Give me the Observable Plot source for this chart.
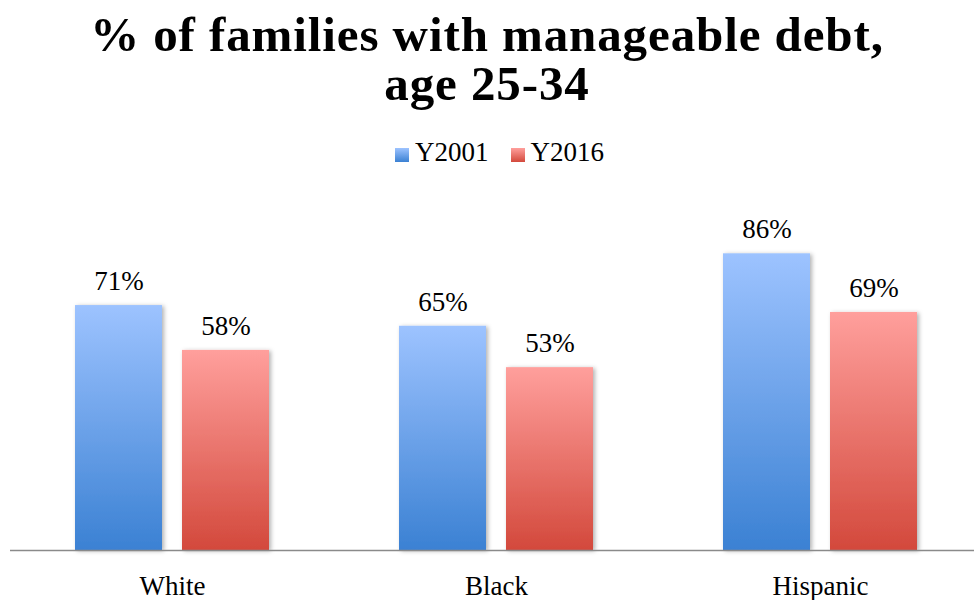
<!DOCTYPE html>
<html>
<head>
<meta charset="utf-8">
<script src="https://cdn.jsdelivr.net/npm/d3@7"></script>
<script src="https://cdn.jsdelivr.net/npm/@observablehq/plot@0.6"></script>
<style>
  html, body { margin: 0; padding: 0; background: #fff; }
  #wrap { position: relative; width: 974px; height: 600px; overflow: hidden; font-family: "Liberation Serif", serif; }
  .title { position: absolute; left: 0; width: 974px; text-align: center; font: bold 49px/46px "Liberation Serif", serif; letter-spacing: 0.9px; color: #000; margin: 0; white-space: nowrap; }
  #t1 { top: 12px; }
  #t2 { top: 61px; }
  #legend { position: absolute; top: 139px; left: 395px; height: 27px; font: 27px/27px "Liberation Serif", serif; color: #000; white-space: nowrap; }
  #legend span.item { display: inline-block; vertical-align: top; }
  #legend span.sw { display: inline-block; width: 14px; height: 14px; margin-right: 6px; vertical-align: -1px; }
  #chart { position: absolute; left: 0; top: 180px; }
</style>
</head>
<body>
<div id="wrap">
  <div class="title" id="t1">% of families with manageable debt,</div>
  <div class="title" id="t2">age 25-34</div>
  <div id="legend"></div>
  <div id="chart"></div>
</div>
<script>
const categories = ["White", "Black", "Hispanic"];
const series = ["Y2001", "Y2016"];
const y2001 = [71, 65, 86];
const y2016 = [58, 53, 69];
const seriesColors = {
  Y2001: ["#9dc3ff", "#3b81d3"],
  Y2016: ["#ff9f9c", "#d3493c"]
};

const rows = [];
categories.forEach((c, i) => {
  rows.push({category: c, series: "Y2001", value: y2001[i]});
  rows.push({category: c, series: "Y2016", value: y2016[i]});
});

// legend
const legend = document.getElementById("legend");
series.forEach((s, i) => {
  const item = document.createElement("span");
  item.className = "item";
  if (i > 0) item.style.marginLeft = "22px";
  const sw = document.createElement("span");
  sw.className = "sw";
  sw.style.background = `linear-gradient(${seriesColors[s][0]}, ${seriesColors[s][1]})`;
  item.appendChild(sw);
  item.appendChild(document.createTextNode(s));
  legend.appendChild(item);
});

const gradId = s => "grad-" + s;

const svg = Plot.plot({
  width: 974,
  height: 420,
  marginTop: 0,
  marginBottom: 50,
  marginLeft: 10,
  marginRight: 0,
  style: {fontFamily: "Liberation Serif, serif", fontSize: "27px", color: "#000", background: "transparent"},
  fx: {domain: categories, range: [10, 982], padding: 0, axis: "bottom", tickSize: 0, tickPadding: 25, label: null},
  x: {domain: series, paddingInner: 0.185, paddingOuter: 0.593, axis: null},
  y: {domain: [0, 107.25], axis: null},
  marks: [
    Plot.barY(rows, {fx: "category", x: "series", y: "value", fill: d => `url(#${gradId(d.series)})`}),
    Plot.text(rows, {fx: "category", x: "series", y: "value", text: d => d.value + "%", lineAnchor: "middle", dy: -24, fill: "#000", fontSize: 27}),
    Plot.ruleY([0], {stroke: "#8a8a8a", strokeWidth: 1.5})
  ]
});

const defs = d3.select(svg).insert("defs", ":first-child");
series.forEach(s => {
  const g = defs.append("linearGradient").attr("id", gradId(s)).attr("x1", 0).attr("y1", 0).attr("x2", 0).attr("y2", 1);
  g.append("stop").attr("offset", "0%").attr("stop-color", seriesColors[s][0]);
  g.append("stop").attr("offset", "100%").attr("stop-color", seriesColors[s][1]);
});
const f = defs.append("filter").attr("id", "shadow").attr("x", "-20%").attr("y", "-20%").attr("width", "140%").attr("height", "140%");
f.append("feDropShadow").attr("dx", 2).attr("dy", 1).attr("stdDeviation", 2).attr("flood-color", "#000").attr("flood-opacity", 0.3);
d3.select(svg).selectAll("rect").attr("filter", "url(#shadow)");

document.getElementById("chart").appendChild(svg);
</script>
</body>
</html>
